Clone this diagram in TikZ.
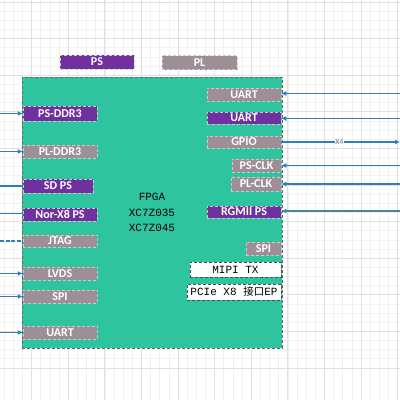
\documentclass[tikz,border=0pt]{standalone}
\usepackage{fontspec}
\setsansfont{Carlito}
\newfontfamily\monof{Liberation Mono}
\newfontfamily\cjk{Noto Sans CJK SC}
\usetikzlibrary{arrows.meta}
\definecolor{psc}{RGB}{112,48,160}
\definecolor{plc}{RGB}{158,142,150}
\definecolor{grn}{RGB}{46,196,160}
\definecolor{lnc}{RGB}{46,125,190}
\definecolor{rgc}{RGB}{70,135,150}
\definecolor{gridM}{RGB}{224,224,224}
\definecolor{gridm}{RGB}{241,241,241}
\begin{document}
\begin{tikzpicture}[x=1pt,y=-1pt,
  lbl/.style={rectangle, inner sep=0pt, text=white, font=\sffamily\bfseries\fontsize{12}{13}\selectfont, draw=white!60!gray, densely dashed, line width=0.5pt, minimum height=13.5pt},
  psbox/.style={lbl, fill=psc},
  plbox/.style={lbl, fill=plc},
  wbox/.style={rectangle, inner sep=0pt, fill=white, draw=black!70, densely dashed, line width=0.5pt, font=\monof\fontsize{11}{12}\selectfont, text=black},
  conn/.style={draw=lnc, line width=1.1pt},
  arr/.style={conn, -{Latex[length=5pt,width=5pt]}},
]
\useasboundingbox (0,0) rectangle (400,400);
\clip (0,0) rectangle (400,400);
\fill[white] (0,0) rectangle (400,400);
% grid
\foreach \k in {-4,...,40} {
  \draw[gridm, line width=0.4pt] ({31.5+9.15*\k},0) -- ({31.5+9.15*\k},400);
  \draw[gridm, line width=0.4pt] (0,{1.8+9.15*\k}) -- (400,{1.8+9.15*\k});
}
\foreach \k in {-1,...,11} {
  \draw[gridM, line width=0.6pt] ({31.5+36.6*\k},0) -- ({31.5+36.6*\k},400);
  \draw[gridM, line width=0.6pt] (0,{1.8+36.6*\k}) -- (400,{1.8+36.6*\k});
}
% main FPGA box
\node[draw=black!60, densely dashed, line width=0.6pt, fill=grn, minimum width=260pt, minimum height=271pt, inner sep=0pt,
      font=\monof\fontsize{11}{15.5}\selectfont, align=center] (fpga) at (152,212.5) {FPGA\\XC7Z035\\XC7Z045};
% headers
\node[psbox, minimum width=74pt, minimum height=14pt] (ps) at (97,62) {PS};
\node[plbox, minimum width=75pt, minimum height=14pt] (pl) at (199.5,62.5) {PL};
% left boxes
\node[psbox, minimum width=74pt, minimum height=15pt] (psddr) at (60,113.5) {PS-DDR3};
\node[plbox, minimum width=74pt] (plddr) at (60,151.5) {PL-DDR3};
\node[psbox, minimum width=70pt, minimum height=14pt] (sdps) at (58,186) {SD PS};
\node[psbox, minimum width=74pt] (norps) at (60,214.5) {Nor-X8 PS};
\node[plbox, minimum width=74pt, minimum height=12.5pt] (jtag) at (60,241) {JTAG};
\node[plbox, minimum width=74pt] (lvds) at (60,273.5) {LVDS};
\node[plbox, minimum width=74pt] (spil) at (60,296.5) {SPI};
\node[plbox, minimum width=74pt] (uartl) at (60,332.5) {UART};
% right boxes
\node[plbox, minimum width=74pt] (uarta) at (244,94.5) {UART};
\node[psbox, minimum width=74pt, minimum height=12.5pt] (uartb) at (244,118) {UART};
\node[plbox, minimum width=74pt, minimum height=12.5pt] (gpio) at (244,142) {GPIO};
\node[plbox, minimum width=49pt] (psclk) at (256.5,165.5) {PS-CLK};
\node[plbox, minimum width=50pt, minimum height=14pt] (plclk) at (256,184) {PL-CLK};
\node[psbox, minimum width=74pt, minimum height=12.5pt] (rgmii) at (244,212) {RGMII PS};
\node[plbox, minimum width=35pt] (spir) at (263.5,248.5) {SPI};
\node[wbox, minimum width=91pt, minimum height=15pt] (mipi) at (235.5,269.5) {MIPI TX};
\node[wbox, minimum width=94pt, minimum height=16pt] (pcie) at (234,292) {PCIe X8 {\cjk\fontsize{10.5}{12}\selectfont 接口}EP};
% left connectors
\coordinate (la) at (0,113.5);
\coordinate (lb) at (0,151.5);
\coordinate (lc) at (0,186);
\coordinate (ld) at (0,213.5);
\coordinate (le) at (0,241);
\coordinate (lf) at (0,273.5);
\coordinate (lg) at (0,296.5);
\coordinate (lh) at (0,332.5);
\draw[arr] (la) -- (psddr.west);
\draw[arr] (lb) -- (plddr.west);
\draw[conn] (lc) -- (sdps.west);
\draw[conn] (ld) -- (norps.west |- ld);
\draw[conn, dashed, dash pattern=on 4pt off 1.5pt] (le) -- (jtag.west);
\draw[arr] (lf) -- (lvds.west);
\draw[arr] (lg) -- (spil.west);
\draw[arr] (lh) -- (uartl.west);
% right connectors
\coordinate (ra) at (400,93.5);
\coordinate (rb) at (400,118.5);
\coordinate (rc) at (400,142);
\coordinate (rd) at (400,165.5);
\coordinate (re) at (400,184);
\coordinate (rf) at (400,211);
\draw[arr] (ra) -- (uarta.east |- ra);
\draw[arr] (rb) -- (uartb.east |- rb);
\draw[arr] (gpio.east) -- node[fill=white, inner sep=0.8pt, text=black!55, font=\sffamily\fontsize{8}{9}\selectfont, pos=0.49] (x4) {X4} (rc);
\draw[arr] (rd) -- (psclk.east);
\draw[arr] (re) -- (plclk.east);
\draw[arr, draw=rgc] (rf) -- (rgmii.east |- rf);
\end{tikzpicture}
\end{document}
